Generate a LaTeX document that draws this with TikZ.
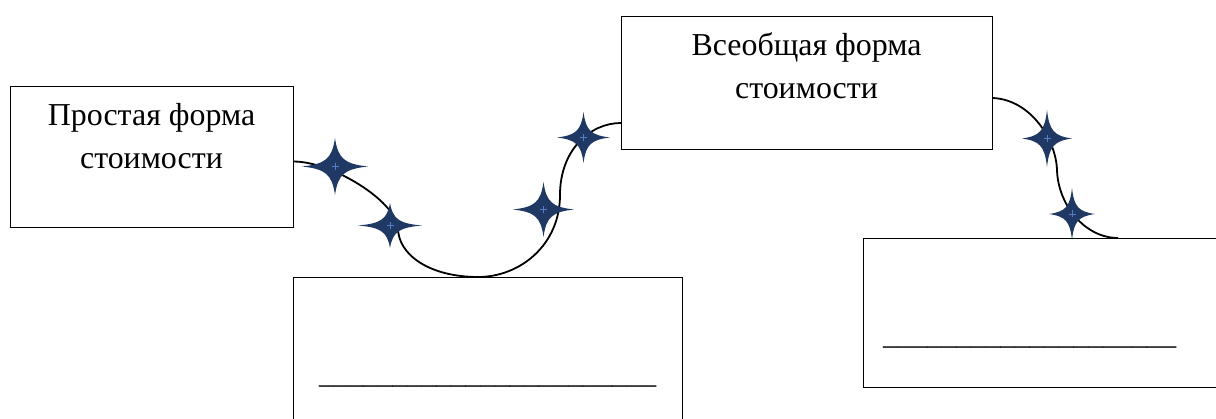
\documentclass[tikz,border=0pt]{standalone}
\usepackage{fontspec}
\setmainfont{Liberation Serif}
\definecolor{starblue}{RGB}{31,56,100}
\definecolor{starlight}{RGB}{85,125,200}
\tikzset{
  box/.style={draw=black, line width=1.1pt, fill=white, inner sep=0pt, anchor=north west},
  lbl/.style={inner sep=0pt, align=center, font=\fontsize{31.9}{43}\selectfont},
  blank/.style={inner sep=0pt, font=\fontsize{29.3}{43}\selectfont},
  link/.style={draw=black, line width=1.8pt},
  pics/sparkle/.style 2 args={code={
    \begin{scope}[xscale=#1, yscale=#2]
      \fill[starblue] (1,0) .. controls (0.28,0.09) and (0.09,0.28) .. (0,1)
        .. controls (-0.09,0.28) and (-0.28,0.09) .. (-1,0)
        .. controls (-0.28,-0.09) and (-0.09,-0.28) .. (0,-1)
        .. controls (0.09,-0.28) and (0.28,-0.09) .. cycle;
    \end{scope}
    \draw[starlight, line width=0.5pt] (-3.5,0) -- (3.5,0) (0,-3.5) -- (0,3.5);
  }}
}
\begin{document}
\begin{tikzpicture}[x=1pt, y=-1pt]
\useasboundingbox (0,0) rectangle (1216,419);
\clip (0,0) rectangle (1216,419);
% boxes
\node[box, minimum width=283pt, minimum height=141pt] (b1) at (10,86) {};
\node[box, minimum width=389pt, minimum height=160pt] (b2) at (293,277) {};
\node[box, minimum width=371pt, minimum height=133pt] (b3) at (621,16) {};
\node[box, minimum width=362pt, minimum height=149pt] (b4) at (863,238) {};
% texts
\node[lbl, anchor=base] (t1) at (151.5,169) {Простая форма\\стоимости};
\node[lbl, anchor=base] (t3) at (806.5,99) {Всеобщая форма\\стоимости};
\node[blank, anchor=base west] (u2) at (319,384) {\_\_\_\_\_\_\_\_\_\_\_\_\_\_\_\_\_\_\_\_\_\_\_};
\node[blank, anchor=base west] (u4) at (883,345) {\_\_\_\_\_\_\_\_\_\_\_\_\_\_\_\_\_\_\_\_};
% connector anchor points
\coordinate (s1) at ([yshift=-4.5pt]b1.east);
\coordinate (m2) at ([xshift=185pt]b2.north west);
\coordinate (e3) at ([yshift=-107pt]b3.north west);
\coordinate (s3) at ([yshift=-82pt]b3.north east);
\coordinate (e4) at ([xshift=255pt]b4.north west);
% connectors
\draw[link] (s1) .. controls +(37,0) and +(-3,-28) .. (398,228)
  .. controls +(0,27) and +(-48,0) .. (m2)
  .. controls +(42,0) and +(0,50) .. (560,195)
  .. controls +(0,-45) and +(-31,0) .. (e3);
\draw[link] (s3) .. controls +(38,2) and +(-1,-30) .. (1057,170)
  .. controls +(1,35) and +(-33,0) .. (e4);
% stars
\pic at (335,166.5) {sparkle={33}{28.5}};
\pic at (390,225.5) {sparkle={32}{22.5}};
\pic at (543.5,209.5) {sparkle={30.5}{27.5}};
\pic at (583.5,137.5) {sparkle={26.5}{25.5}};
\pic at (1047,138.5) {sparkle={25}{28.5}};
\pic at (1072,214) {sparkle={23}{26}};
\end{tikzpicture}
\end{document}
